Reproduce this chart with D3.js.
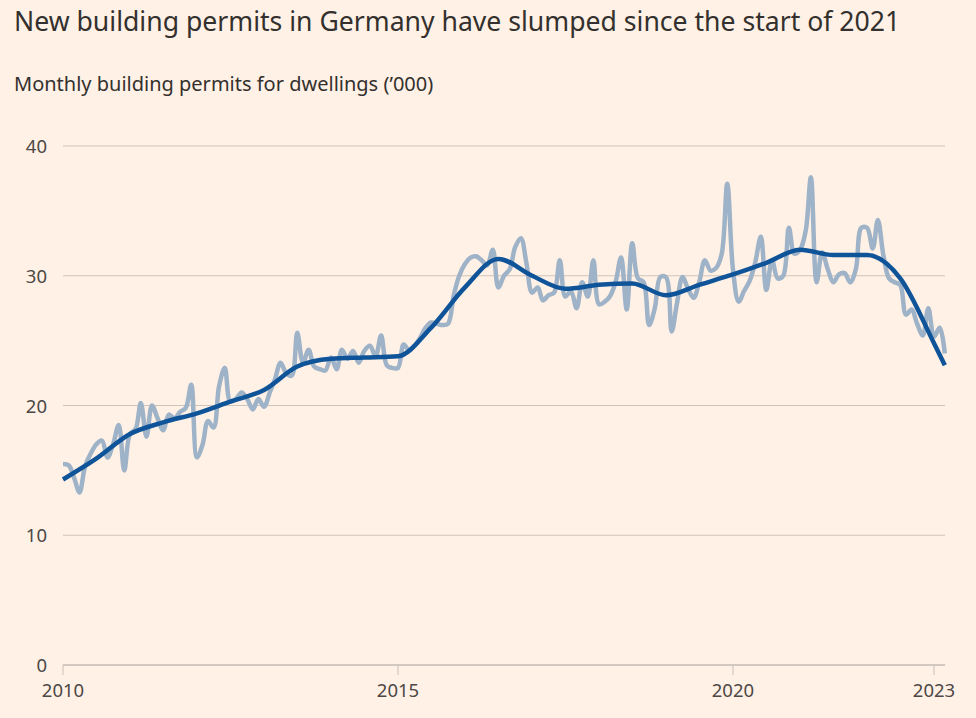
<!DOCTYPE html>
<html>
<head>
<meta charset="utf-8">
<script src="https://cdn.jsdelivr.net/npm/d3@7/dist/d3.min.js"></script>
<style>
  html, body { margin: 0; padding: 0; background: #FFF1E5; }
  svg { display: block; }
  text { font-family: "Noto Sans", "Open Sans", sans-serif; }
</style>
</head>
<body>
<svg id="chart" width="976" height="718"></svg>
<script>
// Monthly building permits for dwellings ('000), Jan 2010 onwards
const startYear = 2010;
const monthly = [
  15.5, 15.4, 14.5, 13.3, 15.3, 16.3, 17.0, 17.3, 16.0, 17.0, 18.5, 15.0,   // 2010
  17.8, 18.2, 20.2, 17.6, 20.0, 19.0, 18.1, 19.3, 19.0, 19.5, 19.8, 21.6,   // 2011
  16.0, 17.0, 18.8, 18.3, 21.5, 22.9, 20.3, 20.5, 21.0, 20.5, 19.7, 20.5,   // 2012
  19.9, 21.0, 22.0, 23.3, 22.5, 22.3, 25.6, 23.3, 24.3, 23.0, 22.8, 22.7,   // 2013
  23.7, 22.8, 24.3, 23.6, 24.2, 23.3, 24.2, 24.6, 23.8, 25.4, 23.1, 22.9,   // 2014
  22.9, 24.7, 24.3, 24.6, 25.2, 26.0, 26.4, 26.3, 26.2, 26.3, 28.5, 30.0,   // 2015
  30.9, 31.4, 31.5, 31.2, 30.8, 32.0, 29.1, 30.0, 30.5, 32.2, 32.9, 31.0,   // 2016
  28.7, 29.1, 28.1, 28.5, 28.7, 31.2, 28.4, 28.8, 27.5, 29.5, 28.4, 31.2,   // 2017
  27.8, 28.0, 28.4, 29.5, 31.4, 27.4, 32.5, 29.8, 29.5, 26.2, 27.5, 29.9,   // 2018
  29.9, 25.7, 27.8, 29.9, 29.0, 28.3, 29.5, 31.2, 30.4, 30.6, 31.7, 37.1,   // 2019
  30.5, 28.0, 28.8, 29.6, 31.0, 33.0, 28.9, 31.2, 29.8, 30.0, 33.7, 31.7,   // 2020
  32.0, 33.5, 37.6, 29.5, 31.8, 30.5, 29.5, 30.1, 30.2, 29.5, 30.5, 33.7,   // 2021
  33.7, 32.1, 34.3, 31.5, 29.8, 29.5, 29.3, 27.0, 27.4, 26.3, 25.4, 27.5,   // 2022
  25.3, 26.0, 24.0                                                          // 2023
];

// Smoothed trend, read at half-year points (year fraction, value)
const trendDates = [2010.0, 2010.5, 2011.0, 2011.5, 2012.0, 2012.5, 2013.0, 2013.5,
  2014.0, 2014.5, 2015.0, 2015.5, 2016.0, 2016.5, 2017.0, 2017.5, 2018.0, 2018.5,
  2019.0, 2019.5, 2020.0, 2020.5, 2021.0, 2021.5, 2022.0, 2022.5, 2023.0, 2023.17];
const trendValues = [14.3, 15.9, 17.8, 18.7, 19.4, 20.3, 21.2, 23.0,
  23.6, 23.7, 23.8, 26.0, 29.1, 31.3, 30.0, 29.0, 29.3, 29.4,
  28.5, 29.3, 30.1, 31.0, 32.0, 31.6, 31.6, 29.8, 24.8, 23.1];

const yTicks = [0, 10, 20, 30, 40];
const xTickYears = [2010, 2015, 2020, 2023];

const title = "New building permits in Germany have slumped since the start of 2021";
const subtitle = "Monthly building permits for dwellings (\u2019000)";

const svg = d3.select("#chart");

const x = d3.scaleTime()
  .domain([new Date(2010, 0, 1), new Date(2023, 0, 1)])
  .range([63, 934]);
const y = d3.scaleLinear().domain([0, 40]).range([665, 146]);

const fracToDate = f => {
  const yr = Math.floor(f);
  const m = Math.round((f - yr) * 12);
  return new Date(yr, m, 1);
};

svg.append("text").attr("x", 14).attr("y", 31)
  .attr("font-size", 26.6).attr("fill", "#33302E").text(title);
svg.append("text").attr("x", 14).attr("y", 91)
  .attr("font-size", 20).attr("fill", "#33302E").text(subtitle);

// gridlines
const gy = svg.append("g");
gy.selectAll("line").data(yTicks.filter(d => d > 0)).join("line")
  .attr("x1", 63).attr("x2", 945)
  .attr("y1", d => y(d)).attr("y2", d => y(d))
  .attr("stroke", "#CFC4BA").attr("stroke-width", 1);
gy.selectAll("text").data(yTicks).join("text")
  .attr("x", 47).attr("y", d => y(d) + 7)
  .attr("text-anchor", "end")
  .attr("font-size", 18.5).attr("fill", "#4D4845")
  .text(d => d);

// baseline axis
svg.append("line").attr("x1", 63).attr("x2", 945)
  .attr("y1", y(0)).attr("y2", y(0))
  .attr("stroke", "#A8A09A").attr("stroke-width", 1);
const gx = svg.append("g");
gx.selectAll("line").data(xTickYears).join("line")
  .attr("x1", d => x(new Date(d, 0, 1))).attr("x2", d => x(new Date(d, 0, 1)))
  .attr("y1", y(0)).attr("y2", y(0) + 10)
  .attr("stroke", "#C9C0B8").attr("stroke-width", 1);
gx.selectAll("text").data(xTickYears).join("text")
  .attr("x", d => x(new Date(d, 0, 1))).attr("y", 697)
  .attr("text-anchor", "middle")
  .attr("font-size", 18.5).attr("fill", "#4D4845")
  .text(d => d);

// monthly line
const monthlyData = monthly.map((v, i) => ({ date: new Date(startYear, i, 1), v }));
const line = d3.line().x(d => x(d.date)).y(d => y(d.v)).curve(d3.curveCatmullRom.alpha(0.5));
svg.append("path").datum(monthlyData)
  .attr("d", line)
  .attr("fill", "none").attr("stroke", "#9EB2C8").attr("stroke-width", 4.5)
  .attr("stroke-linejoin", "round");

// trend line
const trendData = trendDates.map((f, i) => ({ date: fracToDate(f), v: trendValues[i] }));
const tline = d3.line().x(d => x(d.date)).y(d => y(d.v)).curve(d3.curveMonotoneX);
svg.append("path").datum(trendData)
  .attr("d", tline)
  .attr("fill", "none").attr("stroke", "#0F5499").attr("stroke-width", 4.5)
  .attr("stroke-linejoin", "round").attr("stroke-linecap", "butt");
</script>
</body>
</html>
